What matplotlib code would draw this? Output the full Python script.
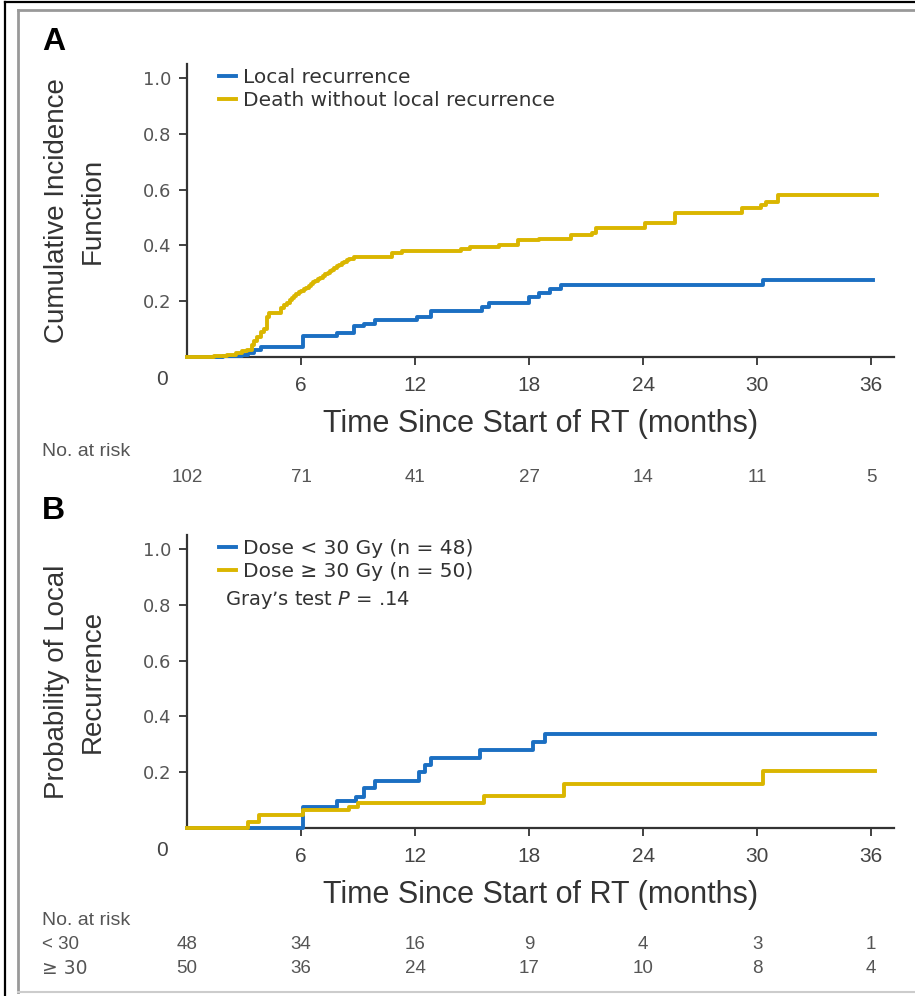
import matplotlib
matplotlib.use("Agg")
import matplotlib.pyplot as plt
from matplotlib.lines import Line2D

# panel A: cumulative incidence, all patients
lr_t = [0, 1.9, 2.9, 3.2, 3.5, 3.9, 6.1, 7.9, 8.8, 9.3, 9.9, 12.1, 12.85,
        15.5, 15.9, 18.0, 18.5, 19.1, 19.7, 30.3, 36.1]
lr_v = [0, 0.003, 0.007, 0.015, 0.025, 0.035, 0.075, 0.087, 0.11, 0.12, 0.133,
        0.145, 0.166, 0.18, 0.195, 0.216, 0.228, 0.243, 0.258, 0.276, 0.276]

death_t = [0, 1.4, 2.1, 2.6, 2.9, 3.15, 3.4, 3.55, 3.7, 3.9, 4.05, 4.2, 4.3,
           4.95, 5.1, 5.25, 5.4, 5.5, 5.65, 5.75, 5.9, 6.0, 6.15, 6.25, 6.4,
           6.5, 6.65, 6.75, 6.9, 7.0, 7.15, 7.25, 7.4, 7.5, 7.65, 7.75, 7.9,
           8.0, 8.15, 8.25, 8.4, 8.5, 8.8, 9.3, 10.8, 11.3, 14.4, 14.9, 16.4,
           17.4, 18.5, 20.2, 21.3, 21.5, 24.1, 25.7, 29.2, 30.2, 30.45, 31.1,
           36.3]
death_v = [0, 0.002, 0.006, 0.013, 0.02, 0.025, 0.043, 0.058, 0.073, 0.088,
           0.10, 0.145, 0.157, 0.174, 0.186, 0.195, 0.205, 0.212, 0.22, 0.226,
           0.233, 0.238, 0.244, 0.248, 0.255, 0.26, 0.267, 0.272, 0.279,
           0.284, 0.291, 0.296, 0.302, 0.307, 0.313, 0.318, 0.325, 0.33,
           0.336, 0.341, 0.346, 0.35, 0.357, 0.36, 0.372, 0.381, 0.386, 0.393,
           0.40, 0.42, 0.423, 0.437, 0.443, 0.461, 0.479, 0.515, 0.533, 0.545,
           0.557, 0.58, 0.58]

# panel B: local recurrence by dose
low_t = [0, 6.1, 7.9, 8.9, 9.3, 9.9, 12.2, 12.5, 12.85, 15.4, 18.2, 18.85, 36.2]
low_v = [0, 0.076, 0.097, 0.11, 0.145, 0.17, 0.2, 0.226, 0.25, 0.28, 0.307,
         0.336, 0.336]
high_t = [0, 3.2, 3.8, 6.1, 8.5, 9.0, 15.65, 19.85, 30.3, 36.2]
high_v = [0, 0.022, 0.046, 0.064, 0.075, 0.088, 0.115, 0.156, 0.206, 0.206]

risk_times = [0, 6, 12, 18, 24, 30, 36]
risk_all = [102, 71, 41, 27, 14, 11, 5]
risk_low = [48, 34, 16, 9, 4, 3, 1]
risk_high = [50, 36, 24, 17, 10, 8, 4]

BLUE = "#1b6fc2"
YELLOW = "#dab600"
W, H = 915, 996

fig = plt.figure(figsize=(W / 100, H / 100), dpi=100)


def fx(x):
    return x / W


def fy(y):
    return 1 - y / H


plain = ["Liberation Sans", "DejaVu Sans"]


def setup_axes(bottom_px, ylabel):
    ax = fig.add_axes([fx(187), fy(bottom_px), 707 / W, 293 / H])
    ax.set_xlim(0, 37.2)
    ax.set_ylim(0, 1.05)
    for s in ["top", "right"]:
        ax.spines[s].set_visible(False)
    for s in ["left", "bottom"]:
        ax.spines[s].set_color("#333333")
        ax.spines[s].set_linewidth(1.6)
    ax.set_xticks([6, 12, 18, 24, 30, 36])
    ax.set_yticks([0.2, 0.4, 0.6, 0.8, 1.0])
    ax.set_yticklabels(["0.2", "0.4", "0.6", "0.8", "1.0"])
    ax.tick_params(axis="both", direction="out", length=6, width=1.3,
                   color="#333333")
    ax.tick_params(axis="y", labelsize=13, labelcolor="#555555", pad=5)
    ax.tick_params(axis="x", labelsize=15, labelcolor="#444444", pad=8)
    for lab in ax.get_xticklabels():
        lab.set_family(plain)
    ax.set_xlabel("Time Since Start of RT (months)", fontsize=22,
                  family=plain, color="#333333", labelpad=10)
    ax.set_ylabel(ylabel, fontsize=20, family=plain, color="#333333",
                  labelpad=27, linespacing=1.5)
    ax.text(-1.3, -0.08, "0", fontsize=15, family=plain, color="#444444",
            ha="center", va="center")
    return ax


def add_legend(ax):
    ax.legend(loc="upper left", bbox_to_anchor=(32 / 707, 1 - 4 / 293),
              frameon=False, fontsize=14.5, handlelength=0.85,
              handletextpad=0.35, labelspacing=0.2, borderpad=0,
              borderaxespad=0, labelcolor="#333333")


# ---- panel A
axA = setup_axes(357, "Cumulative Incidence\nFunction")
axA.plot(lr_t, lr_v, drawstyle="steps-post", color=BLUE, lw=2.8,
         label="Local recurrence", zorder=3, clip_on=False)
axA.plot(death_t, death_v, drawstyle="steps-post", color=YELLOW, lw=2.8,
         label="Death without local recurrence", zorder=3, clip_on=False)
add_legend(axA)

# ---- panel B
axB = setup_axes(828, "Probability of Local\nRecurrence")
axB.plot(low_t, low_v, drawstyle="steps-post", color=BLUE, lw=2.8,
         label="Dose < 30 Gy (n = 48)", zorder=3, clip_on=False)
axB.plot(high_t, high_v, drawstyle="steps-post", color=YELLOW, lw=2.8,
         label="Dose \u2265 30 Gy (n = 50)", zorder=3, clip_on=False)
add_legend(axB)
axB.text(38 / 707, 1 - 65 / 293, "Gray\u2019s test $P$ = .14",
         transform=axB.transAxes, fontsize=14, color="#333333",
         va="center", ha="left")

# panel letters
fig.text(fx(42), fy(42), "A", fontsize=23, fontweight="bold", va="center",
         ha="left", family=plain)
fig.text(fx(42), fy(511), "B", fontsize=23, fontweight="bold", va="center",
         ha="left", family=plain)

# numbers at risk
fig.text(fx(42), fy(452), "No. at risk", fontsize=14, color="#555555",
         va="center", ha="left", family=plain)
for t, n in zip(risk_times, risk_all):
    axA.text(t, -(477 - 357) / 293, str(n), transform=axA.get_xaxis_transform(),
             fontsize=13.5, family=plain, color="#555555", ha="center",
             va="center")

fig.text(fx(42), fy(920), "No. at risk", fontsize=14, color="#555555",
         va="center", ha="left", family=plain)
fig.text(fx(42), fy(944), "< 30", fontsize=13.5, color="#555555",
         va="center", ha="left", family=plain)
fig.text(fx(42), fy(968), "\u2265 30", fontsize=13.5, color="#555555",
         va="center", ha="left", family=["DejaVu Sans"])
for t, n1, n2 in zip(risk_times, risk_low, risk_high):
    axB.text(t, -(944 - 828) / 293, str(n1), transform=axB.get_xaxis_transform(),
             fontsize=13.5, family=plain, color="#555555", ha="center",
             va="center")
    axB.text(t, -(968 - 828) / 293, str(n2), transform=axB.get_xaxis_transform(),
             fontsize=13.5, family=plain, color="#555555", ha="center",
             va="center")

# frame lines around the figure
fig.add_artist(Line2D([fx(5), fx(915)], [fy(2), fy(2)], color="black", lw=1.6))
fig.add_artist(Line2D([fx(5), fx(5)], [fy(2), fy(996)], color="black", lw=1.6))
fig.add_artist(Line2D([fx(18), fx(915)], [fy(10), fy(10)], color="#999999", lw=2))
fig.add_artist(Line2D([fx(18), fx(18)], [fy(10), fy(992)], color="#999999", lw=2))
fig.add_artist(Line2D([fx(18), fx(915)], [fy(992), fy(992)], color="#cccccc", lw=1.5))

fig.savefig("out.png", dpi=100)
